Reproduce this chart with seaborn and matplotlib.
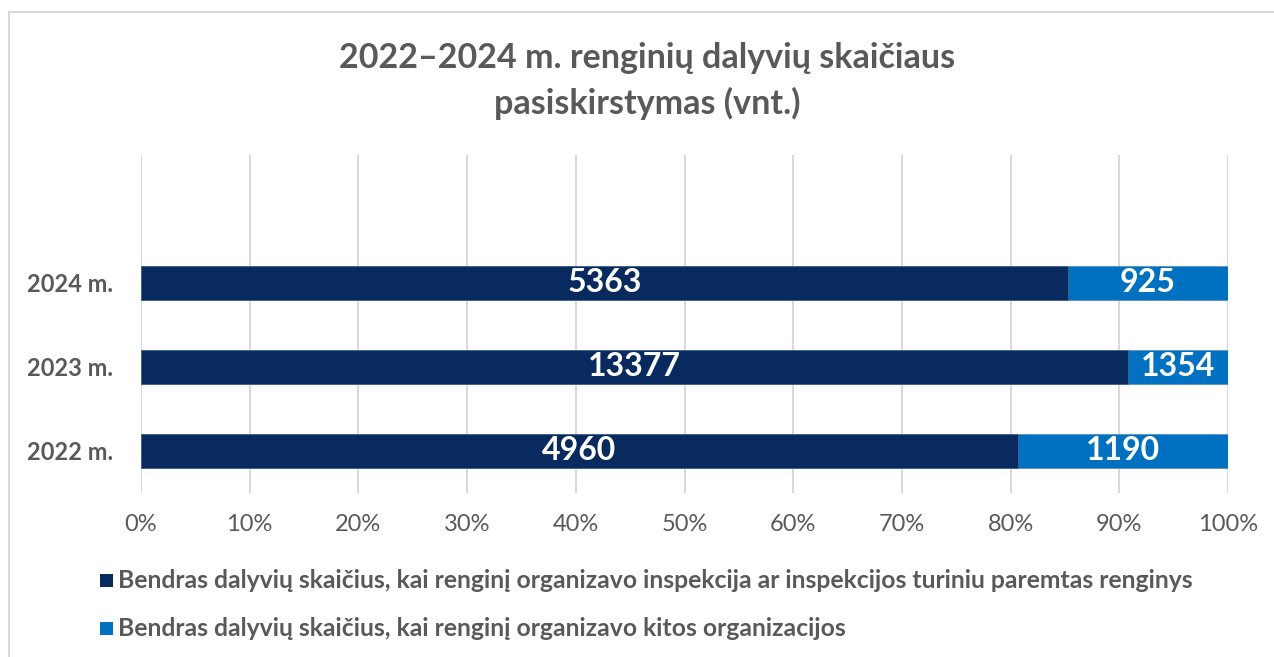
import matplotlib

matplotlib.use("Agg")
import matplotlib.pyplot as plt
import seaborn as sns
import pandas as pd
from matplotlib.patches import Rectangle
from matplotlib.ticker import PercentFormatter

years = ["2024 m.", "2023 m.", "2022 m."]
inspekcija = [5363, 13377, 4960]
kitos = [925, 1354, 1190]
series_names = [
    "Bendras dalyvių skaičius, kai renginį organizavo inspekcija ar inspekcijos turiniu paremtas renginys",
    "Bendras dalyvių skaičius, kai renginį organizavo kitos organizacijos",
]
title_lines = ["2022–2024 m. renginių dalyvių skaičiaus", "pasiskirstymas (vnt.)"]

DARK = "#082A5E"
BLUE = "#0070C0"
GRAY = "#595959"

sns.set_theme(style="white")
plt.rcParams["font.family"] = ["Lato", "DejaVu Sans"]

df = pd.DataFrame({"year": years, "a": inspekcija, "b": kitos})
df["total"] = df["a"] + df["b"]
df["share_a"] = df["a"] / df["total"]
df["share_all"] = 1.0

W, H = 1274, 657
fig = plt.figure(figsize=(W / 100, H / 100), dpi=100)
ax = fig.add_axes([141 / W, 1 - 493 / H, 1087 / W, 338 / H])

# full-width bar (second series) under the first series share
sns.barplot(data=df, y="year", x="share_all", order=years, color=BLUE,
            width=0.4, saturation=1, ax=ax, zorder=2, edgecolor="#5b8fc7", linewidth=0.6)
sns.barplot(data=df, y="year", x="share_a", order=years, color=DARK,
            width=0.4, saturation=1, ax=ax, zorder=3, edgecolor="#4a6590", linewidth=0.6)

for i, row in df.iterrows():
    ax.text(row["share_a"] / 2, i, str(row["a"]), ha="center", va="center",
            color="white", fontsize=23, fontweight="bold", zorder=5)
    ax.text(row["share_a"] + (1 - row["share_a"]) / 2, i, str(row["b"]),
            ha="center", va="center", color="white", fontsize=23,
            fontweight="bold", zorder=5)

ax.set_xlim(0, 1)
ax.set_ylim(2.5, -1.52)
ax.set_xticks([i / 10 for i in range(11)])
ax.xaxis.set_major_formatter(PercentFormatter(1.0, decimals=0))
ax.set_yticks(range(len(years)))
ax.set_yticklabels(years, fontweight="bold", fontsize=17, color=GRAY)
ax.grid(axis="x", color="#D9D9D9", linewidth=1.5, zorder=0)
ax.set_axisbelow(True)
for s in ax.spines.values():
    s.set_visible(False)
ax.set_xlabel("")
ax.set_ylabel("")
ax.tick_params(axis="x", labelsize=17, labelcolor=GRAY, length=0, pad=15)
ax.tick_params(axis="y", length=0, pad=20)

fig.text(647 / W, 1 - 58 / H, title_lines[0], ha="center", va="center",
         fontsize=24.5, fontweight="bold", color=GRAY)
fig.text(647 / W, 1 - 103 / H, title_lines[1], ha="center", va="center",
         fontsize=24.5, fontweight="bold", color=GRAY)

# legend
for name, col, yc in zip(series_names, [DARK, BLUE], [580, 628]):
    fig.patches.append(Rectangle((100 / W, 1 - (yc + 6.5) / H), 13 / W, 13 / H,
                                 transform=fig.transFigure, facecolor=col,
                                 edgecolor="none"))
    fig.text(118 / W, 1 - yc / H, name, ha="left", va="center", fontsize=17.8,
             fontweight="bold", color=GRAY)

fig.patches.append(Rectangle((9 / W, -0.05), 1.1, 1 - 12 / H + 0.05,
                             transform=fig.transFigure, fill=False,
                             edgecolor="#D9D9D9", linewidth=1.5))

fig.savefig("out.png", dpi=100)
